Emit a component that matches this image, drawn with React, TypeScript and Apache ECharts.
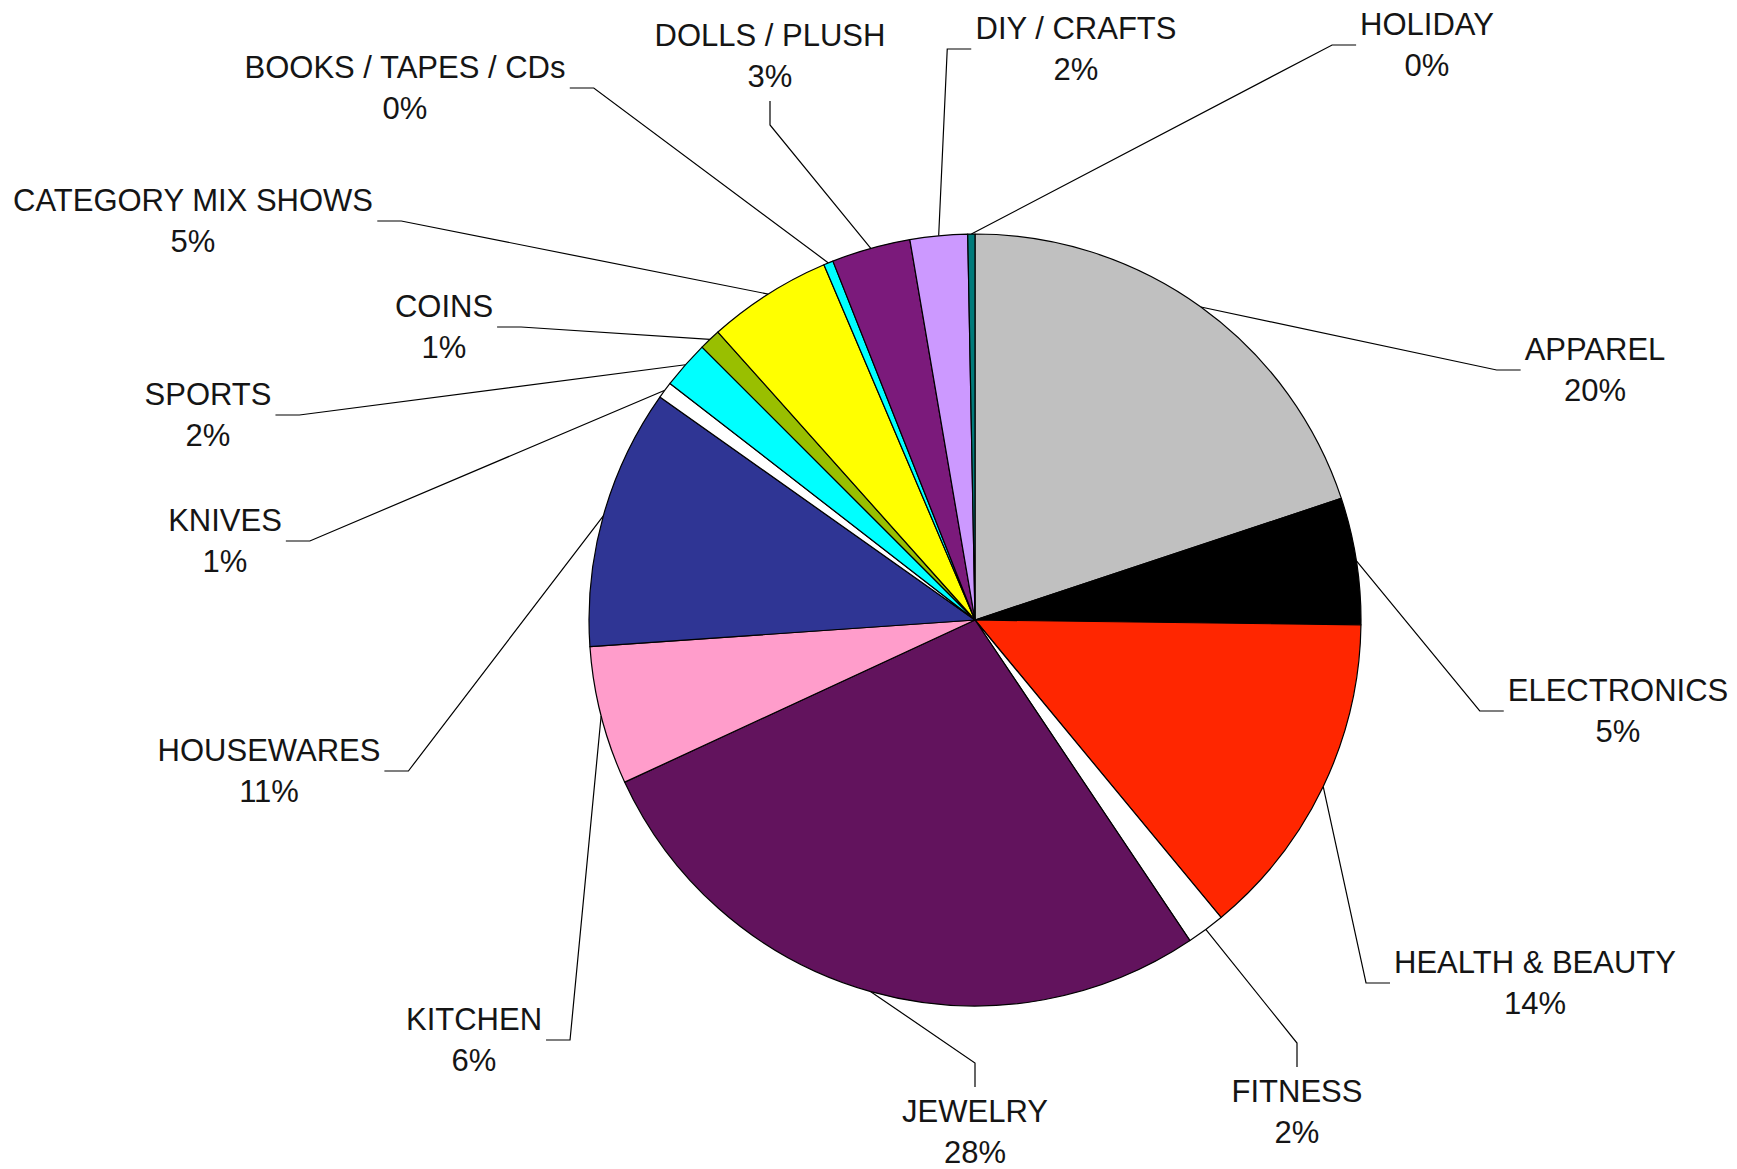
import React, { useEffect, useRef } from "react";
import * as echarts from "echarts";

// ---- data ----
const categories = [
  "APPAREL",
  "ELECTRONICS",
  "HEALTH & BEAUTY",
  "FITNESS",
  "JEWELRY",
  "KITCHEN",
  "HOUSEWARES",
  "KNIVES",
  "SPORTS",
  "COINS",
  "CATEGORY MIX SHOWS",
  "BOOKS / TAPES / CDs",
  "DOLLS / PLUSH",
  "DIY / CRAFTS",
  "HOLIDAY",
];
const shares = [19.9, 5.3, 13.8, 1.6, 27.5, 5.8, 10.9, 0.7, 2.0, 0.9, 5.2, 0.4, 3.3, 2.4, 0.3];
const sliceColors = [
  "#C0C0C0",
  "#000000",
  "#FF2600",
  "#FFFFFF",
  "#62135D",
  "#FF9DCB",
  "#2F3594",
  "#FFFFFF",
  "#00FFFF",
  "#99BF00",
  "#FFFF00",
  "#00FFFF",
  "#7B1A7B",
  "#CC99FF",
  "#007B7B",
];

// ---- label layout (positions of label blocks, pixels) ----
const labelCenters: [number, number][] = [
  [1595, 370],
  [1618, 711],
  [1535, 983],
  [1297, 1112],
  [975, 1132],
  [474, 1040],
  [269, 771],
  [225, 541],
  [208, 415],
  [444, 327],
  [193, 221],
  [405, 88],
  [770, 56],
  [1076, 49],
  [1427, 45],
];
const labelAttach = [
  "left", "left", "left", "top", "top", "right", "right", "right",
  "right", "right", "right", "right", "bottom", "left", "left",
];

const CX = 975;
const CY = 620;
const R = 386;
const GAP = 4;
const SEG = 24;

export default function App() {
  const ref = useRef<HTMLDivElement>(null);

  useEffect(() => {
    if (!ref.current) return;
    const chart = echarts.init(ref.current, null, { renderer: "svg" });
    const total = shares.reduce((a, b) => a + b, 0);
    const cumBefore: number[] = [];
    let acc = 0;
    for (const v of shares) {
      cumBefore.push(acc);
      acc += v;
    }

    const option: any = {
      animation: false,
      backgroundColor: "#ffffff",
      series: [
        {
          type: "pie",
          center: [CX, CY],
          radius: R,
          startAngle: 90,
          clockwise: true,
          avoidLabelOverlap: false,
          minShowLabelAngle: 0,
          emphasis: { disabled: true },
          itemStyle: { borderColor: "#000000", borderWidth: 1.2 },
          label: {
            show: true,
            position: "outside",
            color: "#151515",
            fontFamily: "Arial, 'Liberation Sans', sans-serif",
            fontSize: 31,
            lineHeight: 41,
            align: "center",
            formatter: (p: any) => `${p.name}\n${Math.round(p.percent)}%`,
          },
          labelLine: {
            show: true,
            length: 10,
            length2: 10,
            lineStyle: { color: "#000000", width: 1.2 },
          },
          labelLayout: (params: any) => {
            const i = params.dataIndex;
            const [lx, ly] = labelCenters[i];
            const w = params.labelRect.width;
            const h = params.labelRect.height;
            const mid = ((cumBefore[i] + shares[i] / 2) / total) * Math.PI * 2;
            const sx = CX + R * Math.sin(mid);
            const sy = CY - R * Math.cos(mid);
            let ex = lx, ey = ly, bx = lx, by = ly;
            const mode = labelAttach[i];
            if (mode === "left") {
              ex = lx - w / 2 - GAP; ey = ly; bx = ex - SEG; by = ly;
            } else if (mode === "right") {
              ex = lx + w / 2 + GAP; ey = ly; bx = ex + SEG; by = ly;
            } else if (mode === "top") {
              ex = lx; ey = ly - h / 2 - GAP; bx = lx; by = ey - SEG;
            } else {
              ex = lx; ey = ly + h / 2 + GAP; bx = lx; by = ey + SEG;
            }
            return {
              x: lx,
              y: ly,
              align: "center",
              verticalAlign: "middle",
              labelLinePoints: [
                [sx, sy],
                [bx, by],
                [ex, ey],
              ],
            };
          },
          data: categories.map((name, i) => ({
            name,
            value: shares[i],
            itemStyle: { color: sliceColors[i] },
          })),
        },
      ],
    };
    chart.setOption(option);
    return () => chart.dispose();
  }, []);

  return (
    <div
      ref={ref}
      style={{ position: "absolute", left: 0, top: 0, width: 1737, height: 1169, background: "#fff" }}
    />
  );
}
